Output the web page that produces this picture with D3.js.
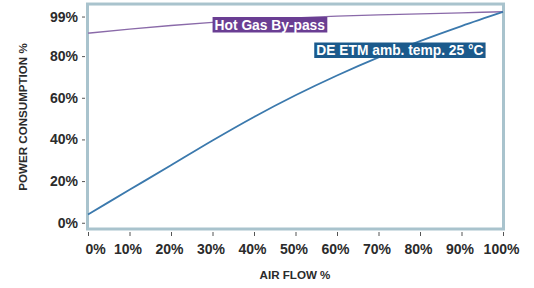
<!DOCTYPE html>
<html>
<head>
<meta charset="utf-8">
<script src="https://cdn.jsdelivr.net/npm/d3@7"></script>
<style>
  body { margin: 0; background: #fff; }
  svg { display: block; font-family: "Liberation Sans", Arial, sans-serif; }
  .axis text { font-size: 14px; font-weight: bold; fill: #2b2b2b; }
  .axis line { stroke: #555; }
  .axis-title { font-size: 11.6px; font-weight: bold; fill: #2b2b2b; }
  .tag text { font-size: 13.8px; font-weight: bold; fill: #fff; }
</style>
</head>
<body>
<svg id="chart" width="534" height="288"></svg>
<script>
// air flow (%) on x, power consumption (%) on y
const airFlow = [0, 10, 20, 30, 40, 50, 60, 70, 80, 90, 100];
const hotGasBypass = [91, 93, 94.7, 96.2, 97.4, 98.4, 99.2, 99.8, 100.3, 100.8, 101.3];
const deEtm = [4, 15.8, 27.6, 39.5, 50.8, 61.2, 70.7, 79.4, 87.2, 94.4, 101.2];
const xTicks = [0, 10, 20, 30, 40, 50, 60, 70, 80, 90, 100];
const yTicks = [0, 20, 40, 60, 80, 99];

const svg = d3.select('#chart');

const x = d3.scaleLinear().domain([0, 100]).range([88, 503]);
const y = d3.scaleLinear().domain([0, 100]).range([222.75, 14.45]);

// plot frame
svg.append('rect')
  .attr('x', x(0) - 0.5)
  .attr('y', y(105))
  .attr('width', x(100) - x(0) + 1)
  .attr('height', y(-3) - y(105))
  .attr('fill', 'none')
  .attr('stroke', '#a9c3cd')
  .attr('stroke-width', 3);

// axes
const yAxis = svg.append('g')
  .attr('class', 'axis')
  .attr('transform', 'translate(85,0)')
  .call(d3.axisLeft(y).tickValues(yTicks).tickSize(3).tickPadding(4).tickFormat(d => d + '%'));
yAxis.select('.domain').remove();

const xAxis = svg.append('g')
  .attr('class', 'axis')
  .attr('transform', 'translate(0,232)')
  .call(d3.axisBottom(x).tickValues(xTicks).tickSize(4).tickPadding(8).tickFormat(d => d + '%'));
xAxis.select('.domain').remove();
xAxis.selectAll('text').attr('x', d => d === 0 ? 7 : -2);

svg.append('text')
  .attr('class', 'axis-title')
  .attr('transform', 'translate(27,117) rotate(-90)')
  .attr('text-anchor', 'middle')
  .text('POWER CONSUMPTION %');

svg.append('text')
  .attr('class', 'axis-title')
  .attr('x', 295)
  .attr('y', 279)
  .attr('text-anchor', 'middle')
  .text('AIR FLOW %');

// curves
const line = d3.line()
  .x((d, i) => x(airFlow[i]))
  .y(d => y(d))
  .curve(d3.curveMonotoneX);

svg.append('path')
  .datum(hotGasBypass)
  .attr('d', line)
  .attr('fill', 'none')
  .attr('stroke', '#8a6aa9')
  .attr('stroke-width', 1.3);

svg.append('path')
  .datum(deEtm)
  .attr('d', line)
  .attr('fill', 'none')
  .attr('stroke', '#3b79ad')
  .attr('stroke-width', 1.8);

// series tags
function tag(label, xv, baseline, fill) {
  const g = svg.append('g').attr('class', 'tag');
  const box = g.append('rect').attr('fill', fill);
  const t = g.append('text').attr('x', x(xv)).attr('y', baseline).text(label);
  const b = t.node().getBBox();
  box.attr('x', b.x - 2).attr('y', baseline - 12.5)
    .attr('width', b.width + 4).attr('height', 15.5);
}

tag('Hot Gas By-pass', 30.5, 29.5, '#6a3e93');
tag('DE ETM amb. temp. 25 °C', 55, 55, '#1b5a8c');
</script>
</body>
</html>
